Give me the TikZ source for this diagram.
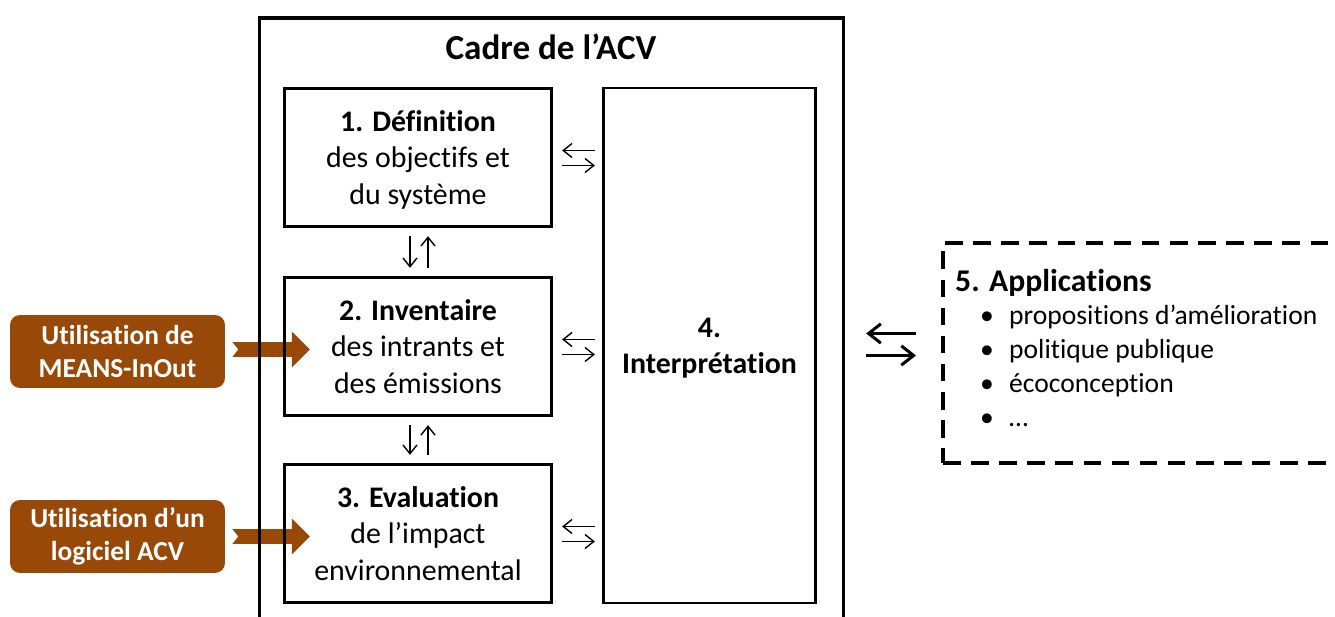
\documentclass[tikz,border=0pt]{standalone}
\usepackage{fontspec}
\setmainfont{Carlito}[Ligatures=NoCommon]
\usetikzlibrary{arrows.meta,calc,backgrounds}

\definecolor{meansbrown}{HTML}{984807}

\tikzset{
  stage/.style={draw, line width=1.6pt, minimum width=5.35cm, minimum height=2.77cm,
    align=center, text depth=0pt, font=\fontsize{17}{20.7}\selectfont},
  toolbox/.style={fill=meansbrown, rounded corners=0.2cm, minimum width=4.3cm,
    minimum height=1.46cm, align=center, text=white, font=\fontsize{15.6}{19}\selectfont\bfseries},
  feed/.style={draw=meansbrown, line width=8.5pt,
    {Triangle Cap[reversed, length=3.4pt]}-{Triangle[length=10.2pt, width=19.8pt]}},
  smallarrow/.style={line width=0.8pt, -{Straight Barb[length=5pt, width=8pt]}},
  bigarrow/.style={line width=1.7pt, -{Straight Barb[length=7pt, width=11pt]}},
  appsbox/.style={draw, line width=2.3pt, dash pattern=on 10pt off 6pt},
  listtext/.style={anchor=base west, font=\fontsize{15.7}{19}\selectfont}
}

\begin{document}
\begin{tikzpicture}[x=0.02cm, y=-0.02cm]
  % 1. Canvas
  \useasboundingbox (0,0) rectangle (1335,617);
  \clip (0,0) rectangle (1335,617);

  % 2. Frame of the LCA
  \draw[line width=1.9pt] (259.5,18) rectangle (843.5,660);
  \node[font=\fontsize{20}{24}\selectfont\bfseries] (title) at (551,47) {Cadre de l’ACV};

  % 3. The four stages
  \node[stage] (box1) at (418,157.5) {\textbf{1. Définition}\\des objectifs et\\du système};
  \node[stage] (box2) at (418,346.5) {\textbf{2. Inventaire}\\des intrants et\\des émissions};
  \node[stage] (box3) at (418,533.5) {\textbf{3. Evaluation}\\de l’impact\\environnemental};
  \node[stage, minimum width=4.25cm, minimum height=10.3cm] (box4) at (709.5,345.5)
    {\textbf{4.}\\\textbf{Interprétation}};

  % 4. Arrows between the stages
  \foreach \a/\b in {box1/box2, box2/box3} {
    \draw[smallarrow] ($(\a.south)+(-8,8)$) -- ($(\b.north)+(-8,-8)$);
    \draw[smallarrow] ($(\b.north)+(10,-8)$) -- ($(\a.south)+(10,8)$);
  }
  \foreach \a in {box1, box2, box3} {
    \draw[smallarrow] ($(\a.east -| box4.west)+(-7,-7)$) -- ($(\a.east)+(9,-7)$);
    \draw[smallarrow] ($(\a.east)+(9,8)$) -- ($(\a.east -| box4.west)+(-7,8)$);
  }

  % 5. Tools feeding the inventory and the assessment
  \node[toolbox] (use1) at (117.5,351.5) {Utilisation de\\MEANS-InOut};
  \node[toolbox] (use2) at (117.5,536.5) {Utilisation d’un\\logiciel ACV};
  \begin{pgfonlayer}{background}
    \draw[feed] ($(use1.east)+(7,-2)$) -- ($(use1.east -| box2.west)+(27,-2)$);
    \draw[feed] ($(use2.east)+(7,0)$) -- ($(use2.east -| box3.west)+(27,0)$);
  \end{pgfonlayer}

  % 6. Applications
  \node[appsbox, anchor=north west, minimum width=8.4cm, minimum height=4.4cm] (apps) at (941,241) {};
  \draw[bigarrow] ($(box4.east -| apps.west)+(-25,-12)$) -- ($(box4.east)+(49,-12)$);
  \draw[bigarrow] ($(box4.east)+(49,10)$) -- ($(box4.east -| apps.west)+(-25,10)$);
  \node[anchor=base west, font=\fontsize{18}{22}\selectfont\bfseries] (appstitle) at (949,292) {5. Applications};
  \foreach \entry [count=\i] in {propositions d’amélioration, politique publique, écoconception, …} {
    \node[listtext] (bullet\i) at (974,{325+33.7*(\i-1)}) {\textbullet};
    \node[listtext] (entry\i) at (1003,{325+33.7*(\i-1)}) {\entry};
  }
\end{tikzpicture}
\end{document}
